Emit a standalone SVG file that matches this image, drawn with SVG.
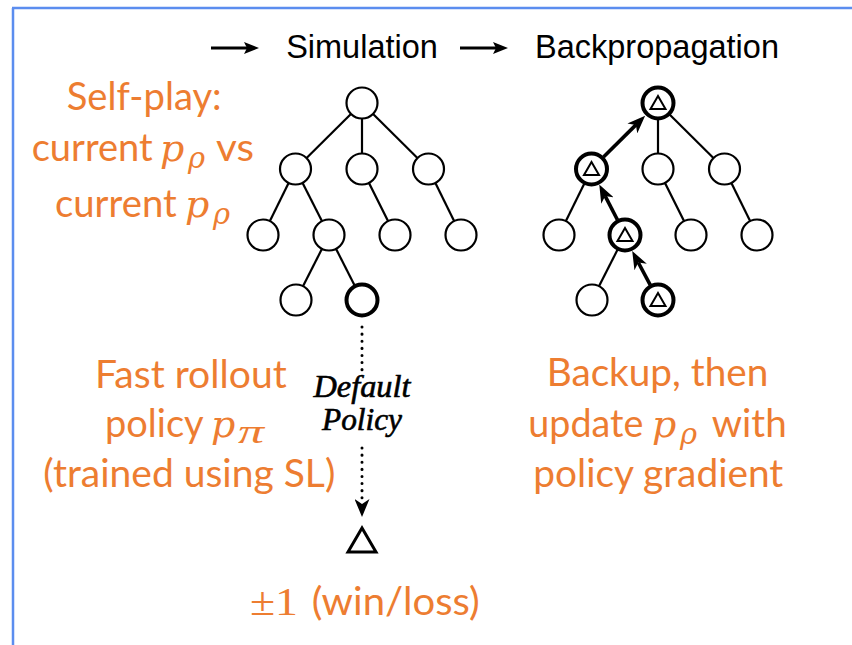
<svg xmlns="http://www.w3.org/2000/svg" width="852" height="645" viewBox="0 0 852 645">
  <style>
    .node { fill: #fff; stroke: #000; stroke-width: 2.2; }
    .bold { fill: #fff; stroke: #000; stroke-width: 4; }
    .tri { fill: none; stroke: #000; stroke-width: 2; stroke-linejoin: miter; }
    .edge { stroke: #000; stroke-width: 2.2; fill: none; }
    .back { stroke: #000; stroke-width: 3.6; fill: none; }
    .hdr { font-family: "Liberation Sans", Arial, sans-serif; font-size: 32.5px; fill: #000; }
    .lbl { font-family: Lato, "Open Sans", sans-serif; font-size: 38px; fill: #ED7D31; }
    .math { font-family: "DejaVu Serif", "Liberation Serif", serif; font-style: italic; font-size: 38px; fill: #ED7D31; }
    .sub { font-family: "DejaVu Serif", "Liberation Serif", serif; font-style: italic; font-size: 29px; fill: #ED7D31; }
    .pi { font-family: "Liberation Serif", "Times New Roman", serif; font-style: italic; font-size: 34px; fill: #ED7D31; }
    .dp { font-family: "Liberation Serif", "Times New Roman", serif; font-style: italic; font-size: 31px; fill: #000; stroke: #000; stroke-width: 0.6; }
  </style>
  <defs>
    <marker id="hdrHead" markerUnits="userSpaceOnUse" markerWidth="15" markerHeight="12" refX="3" refY="6" orient="auto">
      <path d="M0,0 L15,6 L0,12 L3,6 Z" fill="#000"/>
    </marker>
    <marker id="backHead" markerUnits="userSpaceOnUse" markerWidth="18" markerHeight="14" refX="5" refY="7" orient="auto">
      <path d="M0,0 L18,7 L0,14 L5,7 Z" fill="#000"/>
    </marker>
    <marker id="dotHead" markerUnits="userSpaceOnUse" markerWidth="18" markerHeight="15" refX="5" refY="7.5" orient="auto">
      <path d="M0,0 L18,7.5 L0,15 L5,7.5 Z" fill="#000"/>
    </marker>
  </defs>

  <!-- frame -->
  <g id="frame" stroke="#5B8DEF" stroke-width="2.5" fill="none">
    <line x1="12" y1="8" x2="852" y2="8"/>
    <line x1="13" y1="8" x2="13" y2="645"/>
  </g>

  <!-- header -->
  <g id="header">
    <line x1="211" y1="48" x2="247" y2="48" stroke="#000" stroke-width="2.8" marker-end="url(#hdrHead)"/>
    <text class="hdr" x="362" y="58" text-anchor="middle">Simulation</text>
    <line x1="460" y1="48" x2="496" y2="48" stroke="#000" stroke-width="2.8" marker-end="url(#hdrHead)"/>
    <text class="hdr" x="657" y="58" text-anchor="middle">Backpropagation</text>
  </g>

  <!-- connectors -->
  <g id="connectors">
    <!-- simulation tree -->
    <line class="edge" x1="362" y1="103" x2="295.5" y2="169"/>
    <line class="edge" x1="362" y1="103" x2="362" y2="169"/>
    <line class="edge" x1="362" y1="103" x2="428.5" y2="169"/>
    <line class="edge" x1="295.5" y1="169" x2="263" y2="235"/>
    <line class="edge" x1="295.5" y1="169" x2="329" y2="235"/>
    <line class="edge" x1="362" y1="169" x2="395" y2="235"/>
    <line class="edge" x1="428.5" y1="169" x2="461" y2="235"/>
    <line class="edge" x1="329" y1="235" x2="296" y2="300"/>
    <line class="edge" x1="329" y1="235" x2="362" y2="300"/>
    <!-- default policy rollout -->
    <line x1="362" y1="327" x2="362" y2="371" stroke="#000" stroke-width="3" stroke-linecap="round" stroke-dasharray="0.1 7"/>
    <line x1="362" y1="448" x2="362" y2="504" stroke="#000" stroke-width="3" stroke-linecap="round" stroke-dasharray="0.1 7" marker-end="url(#dotHead)"/>
    <!-- backpropagation tree -->
    <line class="edge" x1="658" y1="103" x2="658" y2="169"/>
    <line class="edge" x1="658" y1="103" x2="724.5" y2="169"/>
    <line class="edge" x1="591.5" y1="169" x2="559" y2="235"/>
    <line class="edge" x1="658" y1="169" x2="691" y2="235"/>
    <line class="edge" x1="724.5" y1="169" x2="757" y2="235"/>
    <line class="edge" x1="625" y1="235" x2="592" y2="300"/>
    <!-- backup path -->
    <line class="back" x1="603.5" y1="157" x2="635.9" y2="124.9" marker-end="url(#backHead)"/>
    <line class="back" x1="617.4" y1="219.8" x2="605.2" y2="196.1" marker-end="url(#backHead)"/>
    <line class="back" x1="650.2" y1="284.9" x2="638.3" y2="262.5" marker-end="url(#backHead)"/>
  </g>

  <!-- simulation tree nodes -->
  <g id="sim-root"><circle class="node" cx="362" cy="103" r="15.5"/></g>
  <g id="sim-a"><circle class="node" cx="295.5" cy="169" r="15.5"/></g>
  <g id="sim-b"><circle class="node" cx="362" cy="169" r="15.5"/></g>
  <g id="sim-c"><circle class="node" cx="428.5" cy="169" r="15.5"/></g>
  <g id="sim-aa"><circle class="node" cx="263" cy="235" r="15.5"/></g>
  <g id="sim-ab"><circle class="node" cx="329" cy="235" r="15.5"/></g>
  <g id="sim-ba"><circle class="node" cx="395" cy="235" r="15.5"/></g>
  <g id="sim-ca"><circle class="node" cx="461" cy="235" r="15.5"/></g>
  <g id="sim-aba"><circle class="node" cx="296" cy="300" r="15.5"/></g>
  <g id="sim-abb"><circle class="bold" cx="362" cy="300" r="15.5"/></g>

  <!-- terminal outcome -->
  <g id="outcome"><polygon class="tri" points="362,528 348,552 376,552" style="stroke-width:3"/></g>

  <!-- backpropagation tree nodes -->
  <g id="bp-root"><circle class="bold" cx="658" cy="103" r="15.5"/><polygon class="tri" points="658,96 650.5,109 665.5,109"/></g>
  <g id="bp-a"><circle class="bold" cx="591.5" cy="169" r="15.5"/><polygon class="tri" points="591.5,162 584,175 599,175"/></g>
  <g id="bp-b"><circle class="node" cx="658" cy="169" r="15.5"/></g>
  <g id="bp-c"><circle class="node" cx="724.5" cy="169" r="15.5"/></g>
  <g id="bp-aa"><circle class="node" cx="559" cy="235" r="15.5"/></g>
  <g id="bp-ab"><circle class="bold" cx="625" cy="235" r="15.5"/><polygon class="tri" points="625,228 617.5,241 632.5,241"/></g>
  <g id="bp-ba"><circle class="node" cx="691" cy="235" r="15.5"/></g>
  <g id="bp-ca"><circle class="node" cx="757" cy="235" r="15.5"/></g>
  <g id="bp-aba"><circle class="node" cx="592" cy="300" r="15.5"/></g>
  <g id="bp-abb"><circle class="bold" cx="658" cy="300" r="15.5"/><polygon class="tri" points="658,293 650.5,306 665.5,306"/></g>

  <!-- default policy label -->
  <g id="default-policy">
    <text class="dp" x="362" y="397" text-anchor="middle" textLength="97" lengthAdjust="spacingAndGlyphs">Default</text>
    <text class="dp" x="362" y="430" text-anchor="middle" textLength="80" lengthAdjust="spacingAndGlyphs">Policy</text>
  </g>

  <!-- self-play note -->
  <g id="note-selfplay">
    <text class="lbl" x="66.7" y="110" textLength="155" lengthAdjust="spacingAndGlyphs">Self-play:</text>
    <text class="lbl" x="31.7" y="161" textLength="121" lengthAdjust="spacingAndGlyphs">current</text>
    <text class="math" x="160" y="161">p</text>
    <text class="sub" x="188" y="168">ρ</text>
    <text class="lbl" x="216" y="161" textLength="38" lengthAdjust="spacingAndGlyphs">vs</text>
    <text class="lbl" x="55" y="217" textLength="121.7" lengthAdjust="spacingAndGlyphs">current</text>
    <text class="math" x="185" y="217">p</text>
    <text class="sub" x="213" y="224">ρ</text>
  </g>

  <!-- rollout note -->
  <g id="note-rollout">
    <text class="lbl" x="105" y="437">policy</text>
    <text class="lbl" x="95" y="388" textLength="191.7" lengthAdjust="spacingAndGlyphs">Fast rollout</text>
    <text class="math" x="211" y="437">p</text>
    <text class="pi" x="238" y="443" textLength="26" lengthAdjust="spacingAndGlyphs">π</text>
    <text class="lbl" x="43.3" y="487" textLength="292" lengthAdjust="spacingAndGlyphs">(trained using SL)</text>
  </g>

  <!-- backup note -->
  <g id="note-backup">
    <text class="lbl" x="546.7" y="386" textLength="221.6" lengthAdjust="spacingAndGlyphs">Backup, then</text>
    <text class="lbl" x="528.3" y="437" textLength="115" lengthAdjust="spacingAndGlyphs">update</text>
    <text class="math" x="652" y="437">p</text>
    <text class="sub" x="680" y="444">ρ</text>
    <text class="lbl" x="711.7" y="437" textLength="75" lengthAdjust="spacingAndGlyphs">with</text>
    <text class="lbl" x="533.3" y="487" textLength="250" lengthAdjust="spacingAndGlyphs">policy gradient</text>
  </g>

  <!-- outcome note -->
  <g id="note-outcome">
    <text x="250" y="615" font-family="Liberation Serif, Times New Roman, serif" font-size="40" fill="#ED7D31" textLength="48" lengthAdjust="spacingAndGlyphs">±1</text>
    <text class="lbl" x="311.7" y="615" textLength="168" lengthAdjust="spacingAndGlyphs">(win/loss)</text>
  </g>
</svg>
